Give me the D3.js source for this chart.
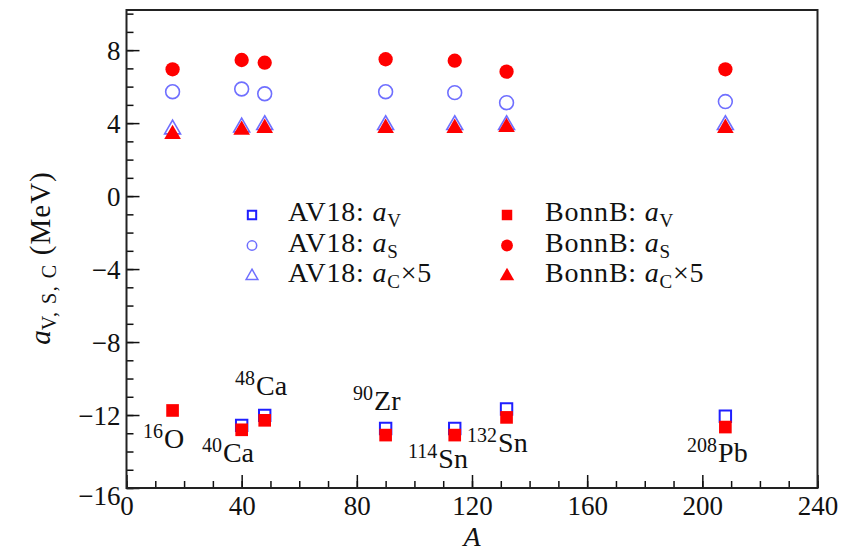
<!DOCTYPE html>
<html>
<head>
<meta charset="utf-8">
<script src="https://cdn.jsdelivr.net/npm/d3@7"></script>
<style>
  body { margin: 0; background: #fff; }
  text { font-family: "Liberation Serif", "DejaVu Serif", serif; fill: #111; }
</style>
</head>
<body>
<svg id="chart" width="845" height="555"></svg>
<script>
// nuclei and mass numbers
const nuclei = ["O", "Ca", "Ca", "Zr", "Sn", "Sn", "Pb"];
const massA = [16, 40, 48, 90, 114, 132, 208];
// AV18 results (MeV)
const av18V = [null, -12.57, -12.02, -12.74, -12.74, -11.67, -12.07];
const av18S = [5.72, 5.87, 5.61, 5.72, 5.67, 5.12, 5.18];
const av18C = [3.66, 3.77, 3.9, 3.9, 3.9, 3.9, 3.9];
// BonnB results (MeV)
const bonnV = [-11.75, -12.81, -12.29, -13.1, -13.1, -12.13, -12.66];
const bonnS = [6.95, 7.46, 7.31, 7.5, 7.42, 6.82, 6.95];
const bonnC = [3.39, 3.62, 3.72, 3.72, 3.72, 3.77, 3.72];
// nucleus label anchors (A, MeV)
const labelPos = [[5.7, -13.8], [26.2, -14.55], [37.7, -10.9], [78.7, -11.7], [97.8, -14.9], [118.3, -14.0], [194.7, -14.55]];

const xTicks = [0, 40, 80, 120, 160, 200, 240];
const yTicks = [-16, -12, -8, -4, 0, 4, 8];

const svg = d3.select("#chart");
const mLeft = 126.5, mRight = 817.5, mTop = 10, mBottom = 488;

const x = d3.scaleLinear().domain([0, 240]).range([mLeft, mRight]);
const y = d3.scaleLinear().domain([-16, 10.2]).range([mBottom, mTop]);

// minor ticks
svg.append("g").attr("transform", "translate(0," + mBottom + ")")
  .call(d3.axisBottom(x).tickValues(d3.range(0, 241, 10)).tickSize(-7).tickFormat(""))
  .call(g => g.select(".domain").remove())
  .selectAll("line").attr("stroke", "#111").attr("stroke-width", 1.5);
svg.append("g").attr("transform", "translate(" + mLeft + ",0)")
  .call(d3.axisLeft(y).tickValues(d3.range(-16, 10.01, 1)).tickSize(-7).tickFormat(""))
  .call(g => g.select(".domain").remove())
  .selectAll("line").attr("stroke", "#111").attr("stroke-width", 1.5);

// major ticks with labels
const xAxis = svg.append("g").attr("transform", "translate(0," + mBottom + ")")
  .call(d3.axisBottom(x).tickValues(xTicks).tickSize(-13).tickPadding(24).tickFormat(d3.format("d")));
xAxis.select(".domain").remove();
xAxis.selectAll("line").attr("stroke", "#111").attr("stroke-width", 1.5);
xAxis.selectAll("text").attr("font-size", 27).attr("fill", "#111")
  .attr("font-family", "Liberation Serif").attr("dy", "0.1em");

const yAxis = svg.append("g").attr("transform", "translate(" + mLeft + ",0)")
  .call(d3.axisLeft(y).tickValues(yTicks).tickSize(-13).tickPadding(6)
    .tickFormat(d => d < 0 ? "\u2212" + Math.abs(d) : d));
yAxis.select(".domain").remove();
yAxis.selectAll("line").attr("stroke", "#111").attr("stroke-width", 1.5);
yAxis.selectAll("text").attr("font-size", 27).attr("fill", "#111")
  .attr("font-family", "Liberation Serif").attr("dy", "0.35em");
yAxis.selectAll(".tick").filter(d => d === -16).select("text").attr("dy", "0.6em");

// frame
svg.append("rect").attr("x", mLeft).attr("y", mTop)
  .attr("width", mRight - mLeft).attr("height", mBottom - mTop)
  .attr("fill", "none").attr("stroke", "#222").attr("stroke-width", 2);

// axis titles
const yl = svg.append("text").attr("transform", "translate(50,258) rotate(-90)")
  .attr("text-anchor", "middle").attr("font-size", 29);
yl.append("tspan").attr("font-style", "italic").text("a");
yl.append("tspan").attr("font-size", 20).attr("dy", 6).attr("letter-spacing", 1.5).text("V, S, C");
yl.append("tspan").attr("dy", -6).attr("letter-spacing", 1).text("  (MeV)");

svg.append("text").attr("x", x(120)).attr("y", 546).attr("text-anchor", "middle")
  .attr("font-size", 28).attr("font-style", "italic").text("A");

const blue = "#1f1fff", lightBlue = "#6f6fff", red = "#ff0000";
const sym = (type, size) => d3.symbol().type(type).size(size)();

function drawSeries(vals, type, size, fill, stroke, sw) {
  svg.append("g").selectAll("path")
    .data(massA.map((a, i) => [a, vals[i]]).filter(d => d[1] !== null))
    .join("path")
    .attr("transform", d => "translate(" + x(d[0]) + "," + y(d[1]) + ")")
    .attr("d", sym(type, size))
    .attr("fill", fill).attr("stroke", stroke).attr("stroke-width", sw);
}

drawSeries(av18V, d3.symbolSquare, 130, "#fff", blue, 2);
drawSeries(av18S, d3.symbolCircle, 150, "none", lightBlue, 1.6);
drawSeries(av18C, d3.symbolTriangle, 110, "none", lightBlue, 1.6);
drawSeries(bonnV, d3.symbolSquare, 160, red, "none", 0);
drawSeries(bonnS, d3.symbolCircle, 160, red, "none", 0);
drawSeries(bonnC, d3.symbolTriangle, 120, red, "none", 0);

// nucleus labels
labelPos.forEach((p, i) => {
  const t = svg.append("text").attr("x", x(p[0])).attr("y", y(p[1])).attr("font-size", 28);
  t.append("tspan").attr("font-size", 20).attr("dy", -10).text(massA[i]);
  t.append("tspan").attr("dy", 10).attr("dx", 1).text(nuclei[i]);
});

// legend
const legend = [
  { col: 0, row: 0, lab: "AV18", sub: "V", x5: false, type: d3.symbolSquare, size: 70, fill: "none", stroke: blue, sw: 2 },
  { col: 0, row: 1, lab: "AV18", sub: "S", x5: false, type: d3.symbolCircle, size: 70, fill: "none", stroke: lightBlue, sw: 1.5 },
  { col: 0, row: 2, lab: "AV18", sub: "C", x5: true, type: d3.symbolTriangle, size: 60, fill: "none", stroke: lightBlue, sw: 1.5 },
  { col: 1, row: 0, lab: "BonnB", sub: "V", x5: false, type: d3.symbolSquare, size: 110, fill: red, stroke: "none", sw: 0 },
  { col: 1, row: 1, lab: "BonnB", sub: "S", x5: false, type: d3.symbolCircle, size: 110, fill: red, stroke: "none", sw: 0 },
  { col: 1, row: 2, lab: "BonnB", sub: "C", x5: true, type: d3.symbolTriangle, size: 90, fill: red, stroke: "none", sw: 0 }
];
const lg = svg.append("g").selectAll("g").data(legend).join("g")
  .attr("transform", d => "translate(" + (252 + d.col * 255) + "," + (215 + d.row * 30.5) + ")");
lg.append("path").attr("d", d => sym(d.type, d.size))
  .attr("fill", d => d.fill).attr("stroke", d => d.stroke).attr("stroke-width", d => d.sw);
const lt = lg.append("text").attr("x", d => d.col ? 38 : 36).attr("y", 6)
  .attr("font-size", 28).attr("letter-spacing", 0.8);
lt.append("tspan").text(d => d.lab + ": ");
lt.append("tspan").attr("font-style", "italic").text("a");
lt.append("tspan").attr("font-size", 19).attr("dy", 6).text(d => d.sub);
lt.append("tspan").attr("dy", -6).text(d => d.x5 ? "\u00d75" : "");
</script>
</body>
</html>
